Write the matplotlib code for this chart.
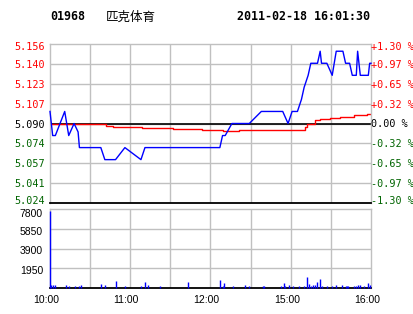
import matplotlib
matplotlib.use("Agg")
import matplotlib.pyplot as plt
from matplotlib.transforms import ScaledTranslation

# stock header
code = "01968"
name = "匹克体育"
stamp = "2011-02-18 16:01:30"
prev_close = 5.09
price_span = 0.066

# price line: trading minute from 10:00 (lunch break removed), price
px_min = [0, 2, 4, 11, 14, 18, 21, 22, 38, 41, 49, 56, 68, 71, 127, 129, 131, 136,
          149, 158, 174, 178, 181, 185, 188, 190, 193, 195, 200, 202, 203, 207, 211,
          214, 219, 221, 224, 226, 229, 230, 231, 232, 238, 239, 240]
px_val = [5.10, 5.08, 5.08, 5.10, 5.08, 5.09, 5.083, 5.07, 5.07, 5.06, 5.06, 5.07,
          5.06, 5.07, 5.07, 5.08, 5.08, 5.09, 5.09, 5.10, 5.10, 5.09, 5.10, 5.10,
          5.11, 5.12, 5.13, 5.14, 5.14, 5.15, 5.14, 5.14, 5.13, 5.15, 5.15, 5.14,
          5.14, 5.13, 5.13, 5.15, 5.14, 5.13, 5.13, 5.14, 5.14]

# average price (step line)
avg_min = [0, 42, 47, 69, 92, 114, 129, 141, 191, 192, 198, 202, 209, 217, 227, 237, 240]
avg_val = [5.0900, 5.0883, 5.0872, 5.0862, 5.0852, 5.0844, 5.0839, 5.0850, 5.0870,
           5.0892, 5.0930, 5.0939, 5.0947, 5.0955, 5.0967, 5.0978, 5.0980]

# volume per minute
vol_min = [0, 1, 2, 4, 12, 14, 19, 22, 23, 38, 41, 49, 56, 68, 71, 73, 82, 103,
           127, 129, 130, 137, 146, 149, 159, 160, 173, 175, 176, 179, 182, 186,
           190, 192, 194, 195, 197, 198, 200, 202, 203, 207, 211, 214, 218, 221,
           222, 223, 227, 229, 230, 232, 235, 238, 239]
vol_val = [7600, 330, 260, 260, 330, 200, 200, 200, 300, 420, 330, 720, 200, 200,
           560, 330, 200, 620, 820, 200, 520, 200, 330, 200, 200, 200, 200, 520,
           200, 300, 200, 200, 200, 1120, 420, 200, 330, 330, 620, 920, 200, 200,
           200, 330, 300, 200, 200, 200, 200, 200, 330, 300, 200, 520, 270]

price_labels = ["5.156", "5.140", "5.123", "5.107", "5.090", "5.074", "5.057", "5.041", "5.024"]
pct_labels = ["+1.30 %", "+0.97 %", "+0.65 %", "+0.32 %", "0.00 %",
              "-0.32 %", "-0.65 %", "-0.97 %", "-1.30 %"]
vol_ticks = [1950, 3900, 5850, 7800]
time_labels = ["10:00", "11:00", "12:00", "15:00", "16:00"]

RED = "#ff0000"
GREEN = "#006400"
GRID = "#c0c0c0"


def tidx(hm):
    h, m = map(int, hm.split(":"))
    t = h * 60 + m - 600
    return t if t <= 150 else t - 120


def label_color(i, n):
    mid = n // 2
    if i < mid:
        return RED
    if i == mid:
        return "black"
    return GREEN


def nudge(fig, label, dx_px, dy_px):
    label.set_transform(label.get_transform()
                        + ScaledTranslation(dx_px / 100, dy_px / 100, fig.dpi_scale_trans))


fig = plt.figure(figsize=(4.14, 3.14), dpi=100)
W, H = 414.0, 314.0
L, R = 50 / W, 371 / W
ax = fig.add_axes([L, 1 - 203 / H, R - L, (203 - 44) / H])
axv = fig.add_axes([L, 1 - 288 / H, R - L, (288 - 209) / H])

lo, hi = prev_close - price_span, prev_close + price_span
n = len(price_labels)
yt = [hi - i * (hi - lo) / (n - 1) for i in range(n)]
grid_x = list(range(30, 240, 30))

for a in (ax, axv):
    a.set_xlim(0, 240)
    for s in ("left", "top", "right"):
        a.spines[s].set_color(GRID)
        a.spines[s].set_linewidth(1.0)
    a.spines["bottom"].set_color("black")
    a.spines["bottom"].set_linewidth(1.3)
    for gx in grid_x:
        a.axvline(gx, color=GRID, lw=1.0, zorder=0)
    a.tick_params(length=0)

ax.set_ylim(lo, hi)
for y in yt[1:-1]:
    ax.axhline(y, color=GRID, lw=1.0, zorder=0)
ax.axhline(prev_close, color="black", lw=1.2, zorder=1)
ax.plot(avg_min, avg_val, color=RED, lw=1.0, drawstyle="steps-post", zorder=2)
ax.plot(px_min, px_val, color="#0000ff", lw=1.0, zorder=3, clip_on=False)
ax.set_xticks([])

ax.set_yticks(yt)
ax.set_yticklabels(price_labels, family="DejaVu Sans Mono", fontsize=7.3)
ax.tick_params(axis="y", pad=4)

axr = ax.twinx()
axr.set_ylim(lo, hi)
axr.set_yticks(yt)
axr.set_yticklabels(pct_labels, family="DejaVu Sans Mono", fontsize=7.3)
axr.tick_params(length=0, pad=0)
for s in axr.spines.values():
    s.set_visible(False)

for a in (ax, axr):
    labels = a.get_yticklabels()
    for i, t in enumerate(labels):
        t.set_color(label_color(i, n))
    nudge(fig, labels[0], 0, -2.5)
    nudge(fig, labels[-1], 0, 2.5)

axv.set_ylim(0, vol_ticks[-1])
for v in vol_ticks[:-1]:
    axv.axhline(v, color=GRID, lw=1.0, zorder=0)
axv.vlines(vol_min, 0, vol_val, color="#0000ff", lw=1.0, zorder=3, clip_on=False)
axv.set_yticks(vol_ticks)
axv.set_yticklabels([str(v) for v in vol_ticks], family="Liberation Sans", fontsize=7.5)
axv.tick_params(axis="y", pad=5)
axv.set_xticks([tidx(t) for t in time_labels])
axv.set_xticklabels(time_labels, family="Liberation Sans", fontsize=7.5)
axv.tick_params(axis="x", pad=5)
for t in axv.get_xticklabels():
    nudge(fig, t, -4, 0)
vlabels = axv.get_yticklabels()
for t in vlabels[:-1]:
    nudge(fig, t, 0, -2)
nudge(fig, vlabels[-1], 0, -4)

ty = 1 - 17 / H
fig.text(50 / W, ty, code, family="DejaVu Sans Mono", weight="bold", fontsize=8.4, va="center")
fig.text(106 / W, ty, name, family=["Noto Sans CJK SC", "DejaVu Sans"], fontsize=9, va="center")
fig.text(370 / W, ty, stamp, family="DejaVu Sans Mono", weight="bold", fontsize=8.4,
         va="center", ha="right")

fig.savefig("out.png", dpi=100, facecolor="white")
